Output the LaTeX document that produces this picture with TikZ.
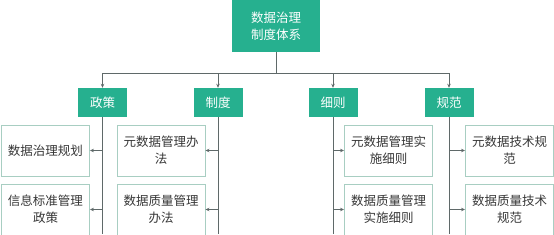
\documentclass[tikz,border=0pt]{standalone}
\usepackage{fontspec}
\newfontfamily\cjk{Noto Sans CJK SC}
\usetikzlibrary{arrows.meta}
\definecolor{teal1}{RGB}{38,176,143}
\definecolor{bord}{RGB}{168,206,194}
\definecolor{linec}{RGB}{95,105,105}
\definecolor{txt}{RGB}{55,55,55}
\tikzset{
  base/.style={font=\cjk\fontsize{12.5}{17}\selectfont, align=center, inner sep=0pt},
  topbox/.style={base, fill=teal1, text=white, minimum width=88pt, minimum height=52pt},
  catbox/.style={base, fill=teal1, text=white, minimum width=49pt, minimum height=29pt},
  leaf/.style={base, draw=bord, line width=0.9pt, fill=white, text=txt, minimum width=88pt, minimum height=51pt},
  conn/.style={draw=linec, line width=0.8pt},
  arr/.style={conn, -{Stealth[length=4pt,width=3.5pt]}}
}
\begin{document}
\begin{tikzpicture}[x=1pt,y=-1pt]
\useasboundingbox (0,0) rectangle (554,234);
\node[topbox] (root) at (276,26) {数据治理\\制度体系};
\node[catbox] (c1) at (102.5,102.5) {政策};
\node[catbox] (c2) at (218,102.5) {制度};
\node[catbox] (c3) at (333,102.5) {细则};
\node[catbox] (c4) at (449,102.5) {规范};
\coordinate (bus) at (276,73);
\coordinate (e1) at (102.5,234);
\coordinate (e2) at (218,234);
\coordinate (e3) at (333,234);
\coordinate (e4) at (449,234);
% leaves
\node[leaf] (a1) at (45.5,150.5) {数据治理规划};
\node[leaf] (a2) at (45.5,209.5) {信息标准管理\\政策};
\node[leaf] (b1) at (161,150.5) {元数据管理办\\法};
\node[leaf] (b2) at (161,209.5) {数据质量管理\\办法};
\node[leaf] (d1) at (388.5,150.5) {元数据管理实\\施细则};
\node[leaf] (d2) at (388.5,209.5) {数据质量管理\\实施细则};
\node[leaf] (f1) at (509.5,150.5) {元数据技术规\\范};
\node[leaf] (f2) at (509.5,209.5) {数据质量技术\\规范};
% connectors
\draw[conn] (root.south) -- (bus);
\draw[conn] (bus -| c1.north) -- (bus -| c4.north);
\foreach \c in {c1,c2,c3,c4} \draw[arr] (bus -| \c.north) -- (\c.north);
\draw[conn] (c1.south) -- (e1);
\draw[conn] (c2.south) -- (e2);
\draw[conn] (c3.south) -- (e3);
\draw[conn] (c4.south) -- (e4);
\draw[arr] (a1.east -| c1.south) -- (a1.east);
\draw[arr] (a2.east -| c1.south) -- (a2.east);
\draw[arr] (b1.east -| c2.south) -- (b1.east);
\draw[arr] (b2.east -| c2.south) -- (b2.east);
\draw[arr] (d1.west -| c3.south) -- (d1.west);
\draw[arr] (d2.west -| c3.south) -- (d2.west);
\draw[arr] (f1.west -| c4.south) -- (f1.west);
\draw[arr] (f2.west -| c4.south) -- (f2.west);
\end{tikzpicture}
\end{document}
